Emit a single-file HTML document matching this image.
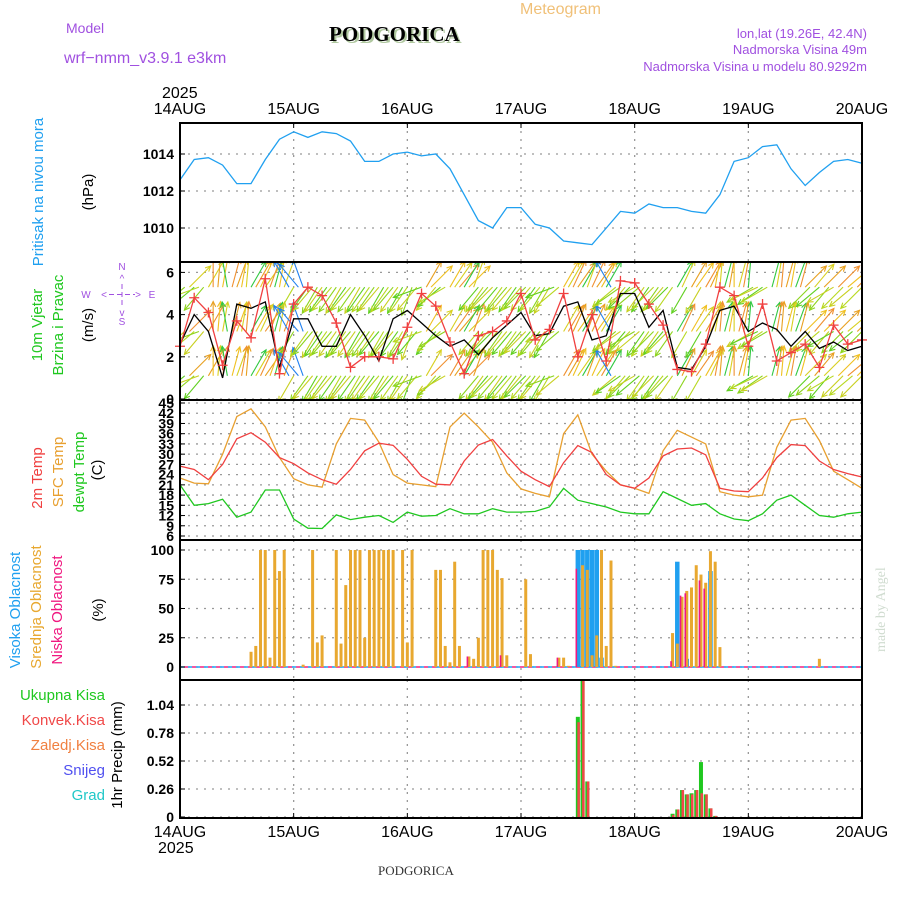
<!DOCTYPE html>
<html><head><meta charset="utf-8"><style>
body{margin:0;background:#fff;}
svg{display:block;font-family:"Liberation Sans",sans-serif;}
.tk{font-weight:bold;font-size:14px;fill:#000;}
</style></head><body>
<svg id="c" width="900" height="900" viewBox="0 0 900 900">
<defs><clipPath id="wclip"><rect x="180" y="262" width="682" height="138"/></clipPath></defs>
<g id="hdr">
<text x="520" y="14" font-size="16" fill="#f0c078">Meteogram</text>
<text x="66" y="33" font-size="14" fill="#a050e0">Model</text>
<text x="64" y="63" font-size="16" fill="#a050e0">wrf−nmm_v3.9.1 e3km</text>
<text x="331" y="43" font-size="21" font-weight="bold" font-family="Liberation Serif,serif" fill="#b0c8a0">PODGORICA</text>
<text x="329" y="41" font-size="21" font-weight="bold" font-family="Liberation Serif,serif" fill="#000">PODGORICA</text>
<text x="867" y="38" font-size="13" fill="#a050e0" text-anchor="end">lon,lat (19.26E, 42.4N)</text>
<text x="867" y="54" font-size="13" fill="#a050e0" text-anchor="end">Nadmorska Visina 49m</text>
<text x="867" y="71" font-size="13" fill="#a050e0" text-anchor="end">Nadmorska Visina u modelu 80.9292m</text>
<text x="378" y="875" font-size="13" font-family="Liberation Serif,serif" fill="#333">PODGORICA</text>
<text x="885" y="652" font-size="14" fill="#d0dcd0" transform="rotate(-90 885 652)" font-family="Liberation Serif,serif">made by Angel</text>
</g>
<g id="grid"></g>
<g id="windarrows" clip-path="url(#wclip)"></g>
<g id="marks"></g>
<g id="axes"></g>
<g id="labels"></g>
</svg>
<script>
// ---- data ----
const days = ["14AUG","15AUG","16AUG","17AUG","18AUG","19AUG","20AUG"];
const pressure = [1012.6,1013.7,1013.8,1013.4,1012.4,1012.4,1013.7,1014.8,1015.2,1014.9,1015.2,1015.1,1014.7,1013.6,1013.6,1014.0,1014.1,1013.9,1014.0,1013.2,1011.8,1010.4,1010.0,1011.1,1011.1,1010.2,1010.0,1009.3,1009.2,1009.1,1010.0,1010.9,1010.8,1011.3,1011.1,1011.1,1010.9,1010.8,1011.8,1013.6,1013.8,1014.4,1014.5,1013.2,1012.3,1013.0,1013.6,1013.7,1013.5];
const windSpeed = [2.6,4.0,3.2,1.0,4.5,4.3,4.6,1.5,3.8,3.8,2.5,2.5,4.0,3.0,1.8,3.8,4.2,3.6,3.0,2.5,2.8,2.1,2.9,3.5,4.1,3.0,3.1,4.4,4.6,2.8,3.0,5.0,5.0,3.4,4.2,1.5,1.4,2.5,4.2,4.4,3.2,3.6,3.3,2.5,3.2,2.4,2.7,2.3,2.5];
const windGust = [2.5,4.8,4.1,1.6,3.7,2.9,5.7,1.2,4.5,5.3,4.9,3.6,1.5,2.0,2.0,1.9,3.4,5.0,4.4,2.7,1.2,3.0,3.2,3.7,5.0,2.8,3.3,5.0,2.0,4.0,1.8,5.6,5.5,4.5,3.5,1.4,1.3,2.6,5.3,4.9,2.5,4.5,1.8,2.2,2.6,1.5,3.5,2.6,2.8];
const windDir = [220,220,45,220,200,230,60, 90,85,80,100, 75,70,80,85, 60,60,65,55, 70,75,80,70, 120,240,130,110,
 235,230,240,235,235,230,235,240,235,230,235,240,235,235, 235,230,240,235,230,235,240,235,
 250,230,200,60,45,230,220,210, 60,55,50,60,45,70, 230,235,230,225,230,235,230,230,235,230,225,230,235,230,
 240,240,200,220, 60,60,65,55,60,70,65, 55,60,60,120, 220,215,230,225,210,220, 235,235,225,235,230,225,235,
 60,65,240,60,55,240,60,65, 80,85,75,80,90,75,80,85, 210,205,215,210, 75,80,85,75,80,70,75,
 45,225,50,220,45,230,210,45,225,40,220,45,225];
const temp2m = [26.5,25.5,22.5,27,34.5,36.3,33.5,29,27.2,24.5,22.5,21.2,25.5,31,33.2,32.6,28.5,23.5,21.2,21,28,32.7,34.3,29.5,25,22.5,20.5,27.5,32.5,30.5,24,21,20,23,29.5,31.5,31.8,29.8,20,19.2,19,23,29,32.8,32.5,28,25.5,24.3,23.3];
const tempSfc = [23,21.5,21.3,30,41,43.3,38,29,22.8,21,20.3,33,40.5,40,33.5,24,21.5,21,20.5,38,42,38,33.5,24.5,19.8,18.5,17.5,36,41.5,30,25,21,20,18.5,31,37,35,33,19,18,17.5,18,32,40,40.5,34,25,22.5,20];
const dewpt = [21,15,15.5,16.8,11.5,13,19.5,19.5,11,8.3,8.2,12.2,10.8,11.5,12,10,13,11.8,12,14,12.5,12.5,14,13,13,13.2,14.5,20,16.5,15.5,14.5,13,12.5,12.5,19,17,15,15.5,12.5,11,10.5,12.5,16.5,18,15,12,11.5,12.5,13];
const midHours = [15,16,17,18,19,20,21,22,26,28,29,30,33,34,35,36,37,38,39,40,41,42,43,44,45,47,48,49,54,55,56,57,58,59,61,62,63,64,65,66,67,68,69,73,74,80,81,82,85,86,87,88,89,90,91,92,104,105,106,107,108,109,110,111,112,113,114,135];
const midCloud = [13,18,100,100,8,100,82,100,2,100,21,27,100,20,70,100,100,100,25,100,100,100,100,100,100,100,21,100,83,83,18,4,90,18,9,7,25,100,100,100,83,76,10,75,11,8,8,1,87,83,10,27,100,18,91,1,29,20,60,65,68,87,79,72,99,90,17,7];
const highHours = [84,85,86,87,88,89,105,107,112];
const highCloud = [100,100,100,100,100,8,90,7,82];
const lowHours = [61,68,80,84,104,106,107,110,111];
const lowCloud = [9,10,8,84,5,61,63,74,67];
const rainHours = [84,85,86,104,105,106,107,108,109,110,111,112,113];
const rainTotal = [0.93,1.28,0.33,0.03,0.07,0.25,0.21,0.22,0.25,0.51,0.21,0.08,0.01];
const rainConv = [0.88,1.28,0.33,0.02,0.07,0.25,0.21,0.21,0.25,0.22,0.21,0.08,0.01];
const pTicks = [1010,1012,1014];
const wTicks = [0,2,4,6];
const tTicks = [6,9,12,15,18,21,24,27,30,33,36,39,42,45];
const cTicks = [0,25,50,75,100];
const rTicks = [0,0.26,0.52,0.78,1.04];

// ---- axes functions ----
const X0=180,X1=862,NH=144;
const xh = h => X0 + h*(X1-X0)/NH;
const x3 = i => xh(i*3);
const py = v => 228 - (v-1010)*18.5;
const wy = v => 399 - v*21.1;
const ty = v => 536 - (v-6)*3.41;
const cy = v => 667 - v*1.17;
const ry = v => 817 - v*107.7;
const panels=[[123,262],[262,400],[400,540],[540,680],[680,818]];

const NS="http://www.w3.org/2000/svg";
function mk(parent,tag,attrs){const e=document.createElementNS(NS,tag);for(const k in attrs)e.setAttribute(k,attrs[k]);parent.appendChild(e);return e;}
const G=document.getElementById('grid'),M=document.getElementById('marks'),A=document.getElementById('axes'),L=document.getElementById('labels'),W=document.getElementById('windarrows');

// grids
function hgrid(ticks,f,fmt){ticks.forEach(t=>{const y=f(t);
 const g=mk(G,'line',{x1:X0,x2:X1,y1:y,y2:y,stroke:'#999','stroke-dasharray':'2 6','stroke-width':1.3});
 
 
 const tx=mk(A,'text',{x:174,y:y+5,'text-anchor':'end',class:'tk'});tx.textContent=fmt?fmt(t):t;
 
 
 mk(A,'line',{x1:X0,x2:X0+5,y1:y,y2:y,stroke:'#000','stroke-width':1});});}
hgrid(pTicks,py);hgrid(wTicks,wy);hgrid(tTicks,ty);hgrid(cTicks,cy);hgrid(rTicks,ry,v=>v===0?'0':v.toFixed(2));
days.forEach((d,i)=>{const x=xh(i*24);
 if(i>0&&i<6)panels.forEach(p=>{const g=mk(G,'line',{x1:x,x2:x,y1:p[0],y2:p[1],stroke:'#999','stroke-dasharray':'2 6','stroke-width':1.3});
  
  });
 const t1=mk(A,'text',{x:x,y:114,'text-anchor':'middle','font-size':16});t1.textContent=d;
 
 
 const t2=mk(A,'text',{x:x,y:837,'text-anchor':'middle','font-size':16});t2.textContent=d;
 
 
 mk(A,'line',{x1:x,x2:x,y1:123,y2:128,stroke:'#000'});mk(A,'line',{x1:x,x2:x,y1:813,y2:818,stroke:'#000'});
});
[[162,98],[158,853]].forEach(p=>{const t=mk(A,'text',{x:p[0],y:p[1],'font-size':16});t.textContent='2025';
 
 });
// frames
panels.forEach(p=>{const r=mk(A,'rect',{x:X0,y:p[0],width:X1-X0,height:p[1]-p[0],fill:'none',stroke:'#000','stroke-width':2});
 
 });

function line(arr,fx,fy,color,w,name){const d=arr.map((v,i)=>(i?'L':'M')+fx(i).toFixed(1)+','+fy(v).toFixed(1)).join('');
 const p=mk(M,'path',{d:d,fill:'none',stroke:color,'stroke-width':w});
 
 return p;}

// pressure
line(pressure,x3,py,'#20a0f0',1.3,'pressure-line');

// wind arrows
const rows=[5.3,3.2,1.1];
const warm=['#e8a020','#f0c020','#d8d020','#f09030'];
const sw=['#b8d820','#8cd41c','#c8d020','#60d020'];
function dirColor(a,h,k){const j=(h+k)%4;
 if(a>=190&&a<=250)return sw[j];
 if(a>=40&&a<=100)return (h%5===0)?'#30c840':warm[j];
 if(a>100&&a<190)return '#2080f0';
 return j%2?'#20c8c0':'#40d060';}
windDir.forEach((a,h)=>{rows.forEach((r,k)=>{const x=xh(h),y=wy(r);const len=30;const rad=a*Math.PI/180;
 const ex=x+len*Math.cos(rad),ey=y-len*Math.sin(rad);
 const col=dirColor(a,h,k);
 const g=mk(W,'g',{stroke:col,'stroke-width':1.1,fill:'none'});
 
 
 mk(g,'line',{x1:x,y1:y,x2:ex,y2:ey});
 const b1=rad+Math.PI-0.45,b2=rad+Math.PI+0.45;
 mk(g,'path',{d:`M${ex+6*Math.cos(b1)},${ey-6*Math.sin(b1)}L${ex},${ey}L${ex+6*Math.cos(b2)},${ey-6*Math.sin(b2)}`});
});});
line(windSpeed,x3,wy,'#000',1.3,'wind-speed-line');
line(windGust,x3,wy,'#f04040',1.3,'wind-gust-line');
windGust.forEach((v,i)=>{const x=x3(i),y=wy(v);const p=mk(M,'path',{d:`M${x-5},${y}h10M${x},${y-5}v10`,stroke:'#f04040','stroke-width':1.3});
 
 });

// temperature
line(tempSfc,x3,ty,'#e8a030',1.3,'sfc-temp-line');
line(temp2m,x3,ty,'#f04040',1.3,'2m-temp-line');
line(dewpt,x3,ty,'#20c820',1.3,'dewpoint-line');

// clouds baseline
[['#20a0f0','0'],['#f02080','4']].forEach(c=>{const b=mk(M,'line',{x1:X0,x2:X1,y1:cy(0),y2:cy(0),stroke:c[0],'stroke-dasharray':'4 4','stroke-dashoffset':c[1],'stroke-width':1.5});
 
 });
function bars(hours,vals,fy,color,w,off,name){hours.forEach((h,i)=>{const x=xh(h)+off,y=fy(vals[i]);
 const r=mk(M,'rect',{x:x-w/2,y:y,width:w,height:fy(0)-y,fill:color});
 
 });}
bars(highHours,highCloud,cy,'#20a0f0',4.5,0,'high-cloud-bar');
bars(midHours,midCloud,cy,'#e8a830',3,0,'mid-cloud-bar');
bars(lowHours,lowCloud,cy,'#f01880',1.6,-1.5,'low-cloud-bar');

// precip
bars(rainHours,rainTotal,ry,'#20c820',4,0,'total-precip-bar');
bars(rainHours,rainConv,ry,'#f04848',2.5,0.8,'convective-precip-bar');

// left labels
function rlab(x,y,txt,col,size,name){const t=mk(L,'text',{x:x,y:y,fill:col,'font-size':size,'text-anchor':'middle',transform:`rotate(-90 ${x} ${y})`});t.textContent=txt;
 
 }
rlab(43,192,'Pritisak na nivou mora','#20a0f0',15,'pressure-title');
rlab(93,192,'(hPa)','#000',15,'pressure-unit');
rlab(42,325,'10m Vjetar','#20c820',15,'wind-title');
rlab(63,325,'Brzina i Pravac','#20c820',15,'wind-subtitle');
rlab(93,325,'(m/s)','#000',15,'wind-unit');
rlab(42,478,'2m Temp','#f04040',15,'temp2m-title');
rlab(63,472,'SFC Temp','#e8a030',15,'sfc-temp-title');
rlab(84,472,'dewpt Temp','#20c820',15,'dewpt-title');
rlab(102,470,'(C)','#000',15,'temp-unit');
rlab(20,610,'Visoka Oblacnost','#20a0f0',15,'high-cloud-title');
rlab(41,607,'Srednja Oblacnost','#e8a830',15,'mid-cloud-title');
rlab(62,610,'Niska Oblacnost','#f01880',15,'low-cloud-title');
rlab(103,610,'(%)','#000',15,'cloud-unit');
rlab(122,755,'1hr Precip (mm)','#000',15,'precip-title');
[['Ukupna  Kisa','#20c820',700],['Konvek.Kisa','#f04848',725],['Zaledj.Kisa','#f08040',750],['Snijeg','#5050f0',775],['Grad','#20c8c8',800]].forEach(l=>{
 const t=mk(L,'text',{x:105,y:l[2],fill:l[1],'font-size':15,'text-anchor':'end'});t.textContent=l[0];
 
 });
// compass
const cp=mk(L,'g',{fill:'#a050e0',stroke:'none','font-size':10});


[['N',122,270],['S',122,325],['W',86,298],['E',152,298],['^',122,282],['v',122,316],['<',104,298],['>',138,298]].forEach(c=>{const t=mk(cp,'text',{x:c[1],y:c[2],'text-anchor':'middle'});t.textContent=c[0];});
mk(cp,'line',{x1:109,x2:135,y1:294.5,y2:294.5,stroke:'#a050e0','stroke-dasharray':'5 3'});
mk(cp,'line',{x1:122,x2:122,y1:284,y2:306,stroke:'#a050e0','stroke-dasharray':'5 3'});
</script>
</body></html>
